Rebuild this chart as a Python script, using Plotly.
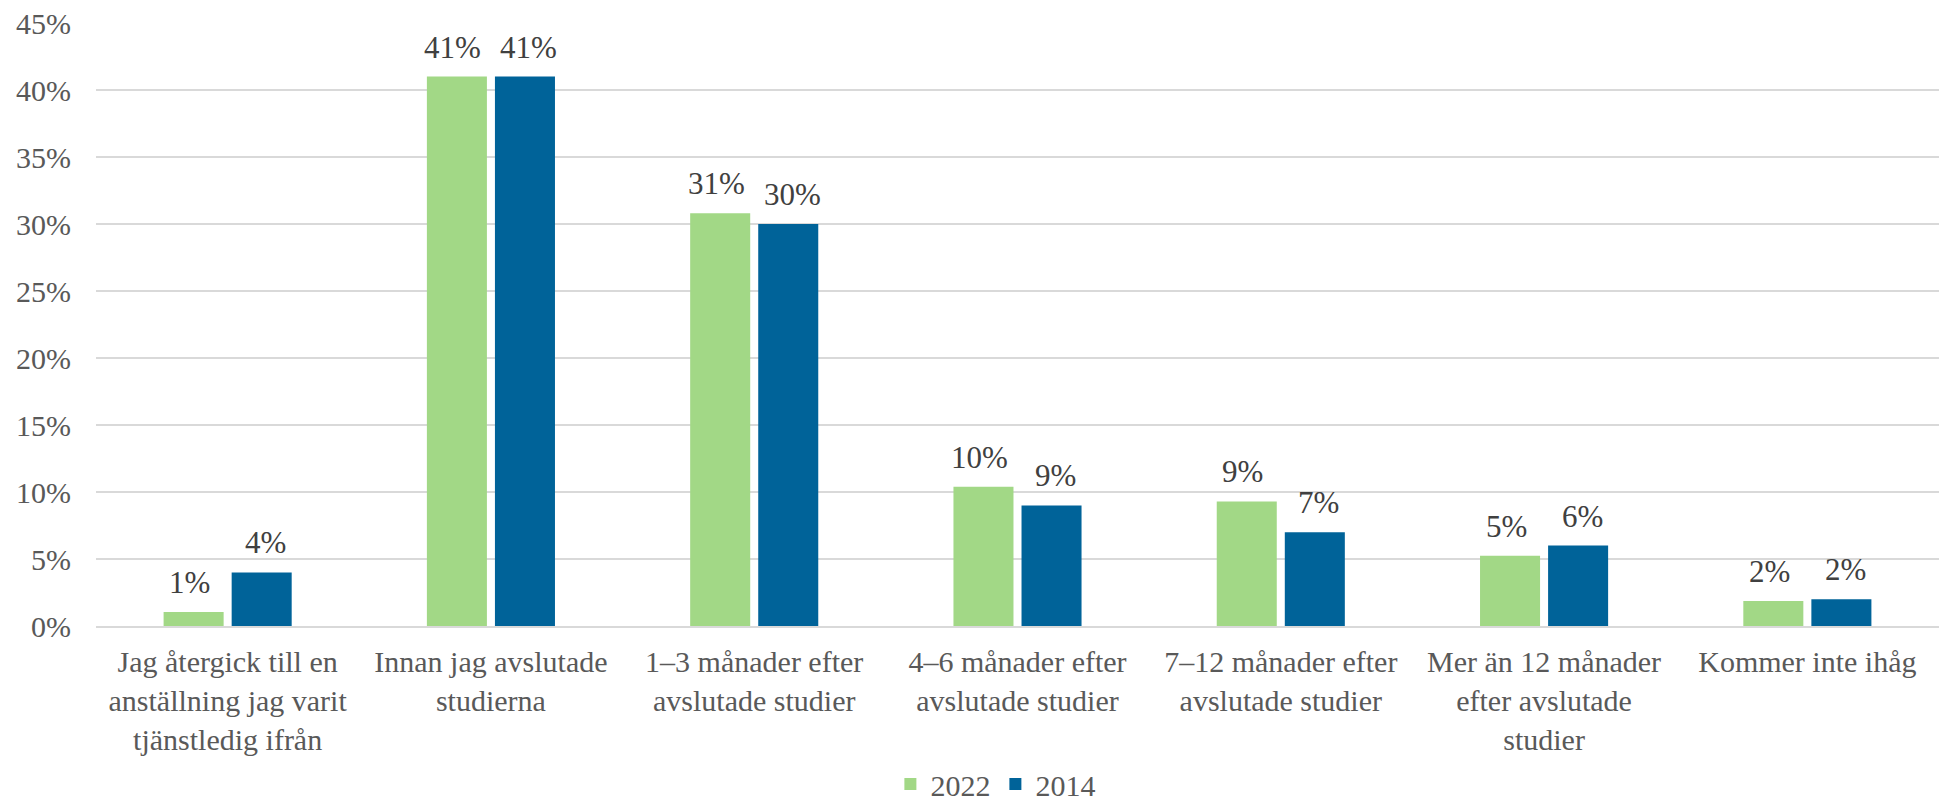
import plotly.graph_objects as go

categories = [
    "Jag återgick till en<br>anställning jag varit<br>tjänstledig ifrån",
    "Innan jag avslutade<br>studierna",
    "1–3 månader efter<br>avslutade studier",
    "4–6 månader efter<br>avslutade studier",
    "7–12 månader efter<br>avslutade studier",
    "Mer än 12 månader<br>efter avslutade<br>studier",
    "Kommer inte ihåg",
]
values_2022 = [1.04, 41.0, 30.8, 10.4, 9.3, 5.25, 1.87]
values_2014 = [4.0, 41.0, 30.0, 9.0, 7.0, 6.0, 2.0]
y_ticks = [0, 5, 10, 15, 20, 25, 30, 35, 40, 45]
y_tick_labels = ["0%", "5%", "10%", "15%", "20%", "25%", "30%", "35%", "40%", "45%"]

FONT = "Liberation Serif"
GREEN = "#A2D886"
BLUE = "#006399"

fig = go.Figure()
fig.add_trace(go.Bar(name="2022", x=categories, y=values_2022,
                     marker=dict(color=GREEN, line=dict(width=0))))
fig.add_trace(go.Bar(name="2014", x=categories, y=values_2014,
                     marker=dict(color=BLUE, line=dict(width=0))))

annotations = []
for series, shift in ((values_2022, -38), (values_2014, 38)):
    for cat, v in zip(categories, series):
        annotations.append(dict(
            x=cat, y=v, xref="x", yref="y", text=f"{v:.0f}%",
            showarrow=False, xshift=shift, yshift=10, yanchor="bottom",
            font=dict(family=FONT, size=31, color="#404040"),
        ))

fig.update_layout(
    width=1941, height=801,
    margin=dict(l=96, r=2, t=23, b=175, autoexpand=False),
    paper_bgcolor="white", plot_bgcolor="white",
    barmode="group", bargap=0.483, bargroupgap=0.118,
    font=dict(family=FONT, color="#595959"),
    showlegend=True,
    annotations=annotations,
    legend=dict(
        orientation="h", x=0.488, xanchor="center", y=-0.262, yanchor="middle",
        font=dict(family=FONT, size=30, color="#595959"),
        traceorder="normal",
    ),
    yaxis=dict(
        range=[0, 45], tickvals=y_ticks, ticktext=y_tick_labels,
        showgrid=True, gridcolor="#D9D9D9", gridwidth=2,
        zeroline=False, showline=False, automargin=False,
        tickfont=dict(family=FONT, size=30, color="#595959"),
        ticklabelstandoff=24,
    ),
    xaxis=dict(
        showline=True, linecolor="#D9D9D9", linewidth=2, automargin=False,
        tickfont=dict(family=FONT, size=30, color="#595959"),
        ticklabelstandoff=8,
    ),
)

fig.write_html(
    "out.html",
    config={"displayModeBar": False},
    post_script="document.body.style.margin='0';document.body.style.overflow='hidden';",
)
